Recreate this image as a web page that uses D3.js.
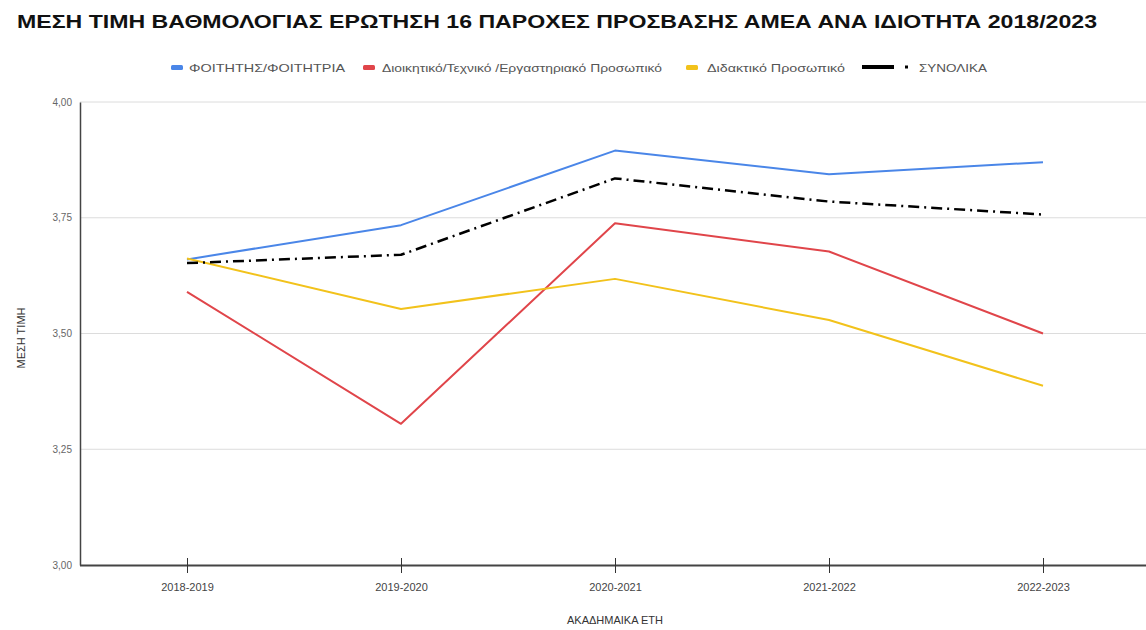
<!DOCTYPE html>
<html>
<head>
<meta charset="utf-8">
<script src="https://cdn.jsdelivr.net/npm/d3@7"></script>
<style>
  html, body { margin: 0; padding: 0; background: #fff; }
  text { font-family: "Liberation Sans", Arial, sans-serif; }
</style>
</head>
<body>
<svg id="chart" width="1146" height="630"></svg>
<script>
// Academic years on the x axis
const years = ["2018-2019", "2019-2020", "2020-2021", "2021-2022", "2022-2023"];

// Mean scores per respondent group
const students = [3.66, 3.734, 3.895, 3.844, 3.870];
const adminStaff = [3.590, 3.305, 3.738, 3.677, 3.500];
const teachingStaff = [3.662, 3.553, 3.618, 3.529, 3.387];
const overall = [3.652, 3.670, 3.835, 3.785, 3.757];

// Series names and y tick values
const seriesNames = ["ΦΟΙΤΗΤΗΣ/ΦΟΙΤΗΤΡΙΑ", "Διοικητικό/Τεχνικό /Εργαστηριακό Προσωπικό", "Διδακτικό Προσωπικό", "ΣΥΝΟΛΙΚΑ"];
const yTicks = [3.00, 3.25, 3.50, 3.75, 4.00];

const title = "ΜΕΣΗ ΤΙΜΗ ΒΑΘΜΟΛΟΓΙΑΣ ΕΡΩΤΗΣΗ 16 ΠΑΡΟΧΕΣ ΠΡΟΣΒΑΣΗΣ ΑΜΕΑ ΑΝΑ ΙΔΙΟΤΗΤΑ 2018/2023";
const xTitle = "ΑΚΑΔΗΜΑΙΚΑ ΕΤΗ";
const yTitle = "ΜΕΣΗ ΤΙΜΗ";

const series = [
  { name: seriesNames[0], values: students, color: "#4a86e8", width: 2, dash: null },
  { name: seriesNames[1], values: adminStaff, color: "#e0454a", width: 2, dash: null },
  { name: seriesNames[2], values: teachingStaff, color: "#f2c21b", width: 2, dash: null },
  { name: seriesNames[3], values: overall, color: "#000000", width: 2.5, dash: "11,5,2,5" }
];

const svg = d3.select("#chart");
const W = 1146;
const plotLeft = 80, plotTop = 102, plotBottom = 565, plotRight = 1150;

const x = d3.scalePoint().domain(years).range([plotLeft, plotRight]).padding(0.5);
const y = d3.scaleLinear().domain([3, 4]).range([plotBottom, plotTop]);

// Title
svg.append("text")
  .attr("x", 17).attr("y", 28)
  .attr("font-size", 19).attr("font-weight", "bold").attr("fill", "#111")
  .attr("textLength", 1080).attr("lengthAdjust", "spacingAndGlyphs")
  .text(title);

// Horizontal gridlines
svg.append("g").selectAll("line")
  .data(yTicks.filter(d => d > 3))
  .join("line")
  .attr("x1", plotLeft).attr("x2", W)
  .attr("y1", d => y(d)).attr("y2", d => y(d))
  .attr("stroke", "#dcdcdc").attr("stroke-width", 1);

// Y axis
const fmt = d => d3.format(".2f")(d).replace(".", ",");
const yAxis = svg.append("g")
  .attr("transform", `translate(${plotLeft},0)`)
  .call(d3.axisLeft(y).tickValues(yTicks).tickFormat(fmt).tickSize(0).tickPadding(8));
yAxis.select(".domain").attr("stroke", "#444").attr("stroke-width", 1.5);
yAxis.selectAll("text").attr("font-size", 10).attr("fill", "#666")
  .attr("font-family", "Liberation Sans, Arial, sans-serif");

// X axis
const xAxis = svg.append("g")
  .attr("transform", `translate(0,${plotBottom})`)
  .call(d3.axisBottom(x).tickSize(8).tickPadding(10).tickSizeOuter(0));
xAxis.select(".domain").attr("d", `M${plotLeft},0.5H${W}`).attr("stroke", "#444").attr("stroke-width", 2);
xAxis.selectAll(".tick line").attr("y1", -7).attr("y2", 8).attr("stroke", "#333").attr("stroke-width", 1);
xAxis.selectAll("text").attr("font-size", 11).attr("fill", "#444")
  .attr("font-family", "Liberation Sans, Arial, sans-serif");

// Axis titles
svg.append("text")
  .attr("x", 615).attr("y", 624).attr("text-anchor", "middle")
  .attr("font-size", 11).attr("fill", "#333").text(xTitle);
svg.append("text")
  .attr("transform", "translate(25,338) rotate(-90)")
  .attr("text-anchor", "middle")
  .attr("font-size", 11).attr("fill", "#333").text(yTitle);

// Lines
const line = d3.line().x((d, i) => x(years[i])).y(d => y(d));
svg.append("g").selectAll("path")
  .data(series)
  .join("path")
  .attr("d", d => line(d.values))
  .attr("fill", "none")
  .attr("stroke", d => d.color)
  .attr("stroke-width", d => d.width)
  .attr("stroke-dasharray", d => d.dash)
  .attr("stroke-linejoin", "round");

// Legend
const legendItems = [
  { s: series[0], sx: 171, tx: 189, tw: 156 },
  { s: series[1], sx: 363, tx: 382, tw: 280 },
  { s: series[2], sx: 686, tx: 707, tw: 138 },
  { s: series[3], sx: 862, tx: 919, tw: 68 }
];
const lg = svg.append("g");
legendItems.forEach(it => {
  if (it.s.dash) {
    lg.append("rect").attr("x", it.sx).attr("y", 65).attr("width", 32).attr("height", 4)
      .attr("fill", it.s.color);
    lg.append("rect").attr("x", it.sx + 43).attr("y", 65.5).attr("width", 3).attr("height", 3)
      .attr("fill", it.s.color);
  } else {
    lg.append("rect").attr("x", it.sx).attr("y", 65).attr("width", 12).attr("height", 5)
      .attr("rx", 1.5).attr("fill", it.s.color);
  }
  lg.append("text").attr("x", it.tx).attr("y", 71.5)
    .attr("font-size", 11).attr("fill", "#555")
    .attr("textLength", it.tw).attr("lengthAdjust", "spacingAndGlyphs")
    .text(it.s.name);
});
</script>
</body>
</html>
